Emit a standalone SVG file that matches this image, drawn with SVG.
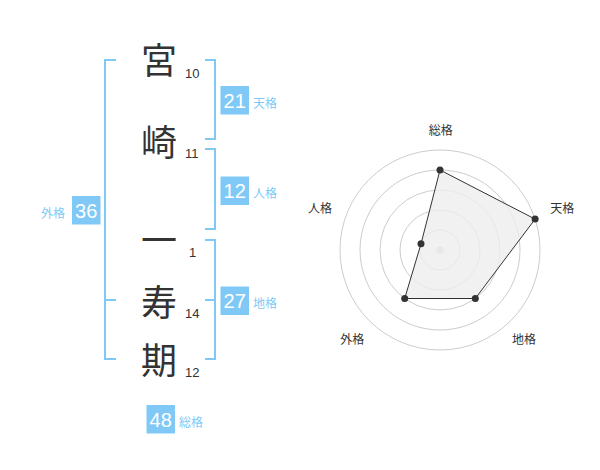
<svg xmlns="http://www.w3.org/2000/svg" width="600" height="470" viewBox="0 0 600 470">
<style>
.ch{font-family:"Noto Sans CJK JP","Liberation Sans",sans-serif;font-size:36px;fill:#333;text-anchor:middle}
.n{font-family:"Liberation Sans","Noto Sans CJK JP",sans-serif;font-size:13px;fill:#333}
.br{fill:none;stroke:#80c9f7;stroke-width:2}
.box{fill:#80c9f7}
.bn{font-family:"Liberation Sans",sans-serif;font-size:20px;fill:#fff;text-anchor:middle}
.lb{font-family:"Noto Sans CJK JP","Liberation Sans",sans-serif;font-size:12px;fill:#80c9f7}
.ring{fill:none;stroke:#ccc;stroke-width:1}
.ax{font-family:"Noto Sans CJK JP","Liberation Sans",sans-serif;font-size:12px;fill:#333;text-anchor:middle}
.pt{fill:#333}
</style>
<rect width="600" height="470" fill="#fff"/>
<g id="name">
<text class="ch" x="159" y="74">宮</text>
<text class="ch" x="159" y="156">崎</text>
<text class="ch" x="159" y="254">一</text>
<text class="ch" x="159" y="316">寿</text>
<text class="ch" x="159" y="374">期</text>
<text class="n" x="185" y="78">10</text>
<text class="n" x="185" y="158">11</text>
<text class="n" x="189" y="257">1</text>
<text class="n" x="185" y="318">14</text>
<text class="n" x="185" y="377">12</text>
</g>
<g id="connectors">
<path class="br" d="M116,60 H105 V359 H116 M105,300 H116"/>
<path class="br" d="M205,60 H215 V139 H205"/>
<path class="br" d="M205,149 H215 V229 H205"/>
<path class="br" d="M205,240 H215 V359 H205 M215,300 H205"/>
</g>
<g id="tenkaku">
<rect class="box" x="220.5" y="86" width="28.5" height="28.5"/>
<text class="bn" x="234.7" y="107.5">21</text>
<text class="lb" x="253" y="108">天格</text>
</g>
<g id="jinkaku">
<rect class="box" x="220.5" y="176.5" width="28.5" height="28.5"/>
<text class="bn" x="234.7" y="198">12</text>
<text class="lb" x="253" y="198">人格</text>
</g>
<g id="chikaku">
<rect class="box" x="220.5" y="286.5" width="28.5" height="28.5"/>
<text class="bn" x="234.7" y="308">27</text>
<text class="lb" x="253" y="308">地格</text>
</g>
<g id="gaikaku">
<rect class="box" x="72" y="196" width="28.5" height="28.5"/>
<text class="bn" x="86.2" y="217.5">36</text>
<text class="lb" x="41" y="218">外格</text>
</g>
<g id="soukaku">
<rect class="box" x="146.5" y="405" width="28.5" height="28.5"/>
<text class="bn" x="160.7" y="426.5">48</text>
<text class="lb" x="179" y="427">総格</text>
</g>
<g id="radar">
<circle class="ring" cx="440" cy="250" r="20"/>
<circle class="ring" cx="440" cy="250" r="40"/>
<circle class="ring" cx="440" cy="250" r="60"/>
<circle class="ring" cx="440" cy="250" r="80"/>
<circle class="ring" cx="440" cy="250" r="100"/>
<circle cx="440" cy="250" r="3.5" fill="#ccc"/>
<polygon points="440,170 535.1,219.1 475.3,298.5 404.7,298.5 421,243.8" fill="#eee" fill-opacity="0.8" stroke="#333" stroke-width="1"/>
<circle class="pt" cx="440" cy="170" r="3.5"/>
<circle class="pt" cx="535.1" cy="219.1" r="3.5"/>
<circle class="pt" cx="475.3" cy="298.5" r="3.5"/>
<circle class="pt" cx="404.7" cy="298.5" r="3.5"/>
<circle class="pt" cx="421" cy="243.8" r="3.5"/>
<text class="ax" x="440.7" y="135">総格</text>
<text class="ax" x="562.3" y="213">天格</text>
<text class="ax" x="524" y="344">地格</text>
<text class="ax" x="352.3" y="344">外格</text>
<text class="ax" x="320" y="213">人格</text>
</g>
</svg>
